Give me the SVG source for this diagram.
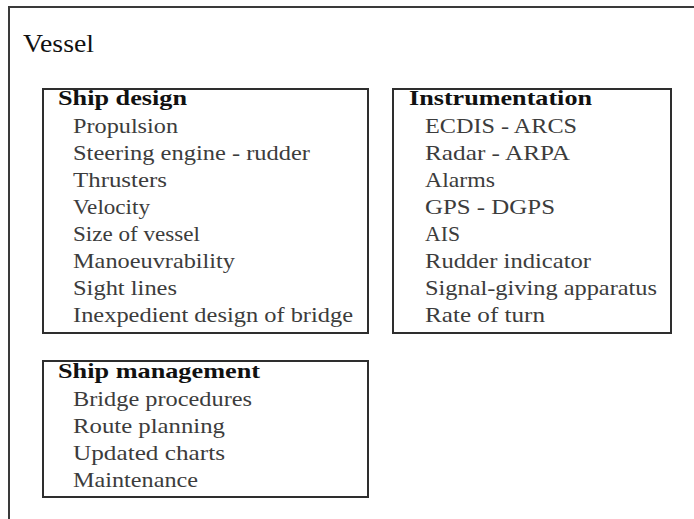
<svg xmlns="http://www.w3.org/2000/svg" width="694" height="519" viewBox="0 0 694 519">
<style>
.frame{fill:none;stroke:#3a3a3a;stroke-width:2}
.box{fill:none;stroke:#2e2e2e;stroke-width:2}
.title{font-family:"Liberation Serif","DejaVu Serif",serif;font-size:21px;font-weight:bold;fill:#111}
.item{font-family:"Liberation Serif","DejaVu Serif",serif;font-size:21px;fill:#3c3c3c}
.head{font-family:"Liberation Serif","DejaVu Serif",serif;font-size:26px;fill:#111}
</style>
<rect width="694" height="519" fill="#fff"/>
<path class="frame" d="M9 519 V7 H694"/>
<text class="head" x="23" y="52" textLength="71" lengthAdjust="spacingAndGlyphs">Vessel</text>
<g id="ship-design">
<rect class="box" x="43" y="89" width="325" height="244"/>
<text class="title" x="58" y="105" textLength="129" lengthAdjust="spacingAndGlyphs">Ship design</text>
<text class="item" x="73" y="133" textLength="105" lengthAdjust="spacingAndGlyphs">Propulsion</text>
<text class="item" x="73" y="160" textLength="237" lengthAdjust="spacingAndGlyphs">Steering engine - rudder</text>
<text class="item" x="73" y="187" textLength="94" lengthAdjust="spacingAndGlyphs">Thrusters</text>
<text class="item" x="73" y="214" textLength="77" lengthAdjust="spacingAndGlyphs">Velocity</text>
<text class="item" x="73" y="241" textLength="127" lengthAdjust="spacingAndGlyphs">Size of vessel</text>
<text class="item" x="73" y="268" textLength="162" lengthAdjust="spacingAndGlyphs">Manoeuvrability</text>
<text class="item" x="73" y="295" textLength="104" lengthAdjust="spacingAndGlyphs">Sight lines</text>
<text class="item" x="73" y="322" textLength="280" lengthAdjust="spacingAndGlyphs">Inexpedient design of bridge</text>
</g>
<g id="instrumentation">
<rect class="box" x="393" y="89" width="278" height="244"/>
<text class="title" x="409" y="105" textLength="183" lengthAdjust="spacingAndGlyphs">Instrumentation</text>
<text class="item" x="425" y="133" textLength="152" lengthAdjust="spacingAndGlyphs">ECDIS - ARCS</text>
<text class="item" x="425" y="160" textLength="145" lengthAdjust="spacingAndGlyphs">Radar - ARPA</text>
<text class="item" x="425" y="187" textLength="70" lengthAdjust="spacingAndGlyphs">Alarms</text>
<text class="item" x="425" y="214" textLength="130" lengthAdjust="spacingAndGlyphs">GPS - DGPS</text>
<text class="item" x="425" y="241" textLength="35" lengthAdjust="spacingAndGlyphs">AIS</text>
<text class="item" x="425" y="268" textLength="166" lengthAdjust="spacingAndGlyphs">Rudder indicator</text>
<text class="item" x="425" y="295" textLength="232" lengthAdjust="spacingAndGlyphs">Signal-giving apparatus</text>
<text class="item" x="425" y="322" textLength="120" lengthAdjust="spacingAndGlyphs">Rate of turn</text>
</g>
<g id="ship-management">
<rect class="box" x="43" y="361" width="325" height="136"/>
<text class="title" x="58" y="378" textLength="202" lengthAdjust="spacingAndGlyphs">Ship management</text>
<text class="item" x="73" y="406" textLength="179" lengthAdjust="spacingAndGlyphs">Bridge procedures</text>
<text class="item" x="73" y="433" textLength="152" lengthAdjust="spacingAndGlyphs">Route planning</text>
<text class="item" x="73" y="460" textLength="152" lengthAdjust="spacingAndGlyphs">Updated charts</text>
<text class="item" x="73" y="487" textLength="125" lengthAdjust="spacingAndGlyphs">Maintenance</text>
</g>
<g id="connectors"/>
</svg>
